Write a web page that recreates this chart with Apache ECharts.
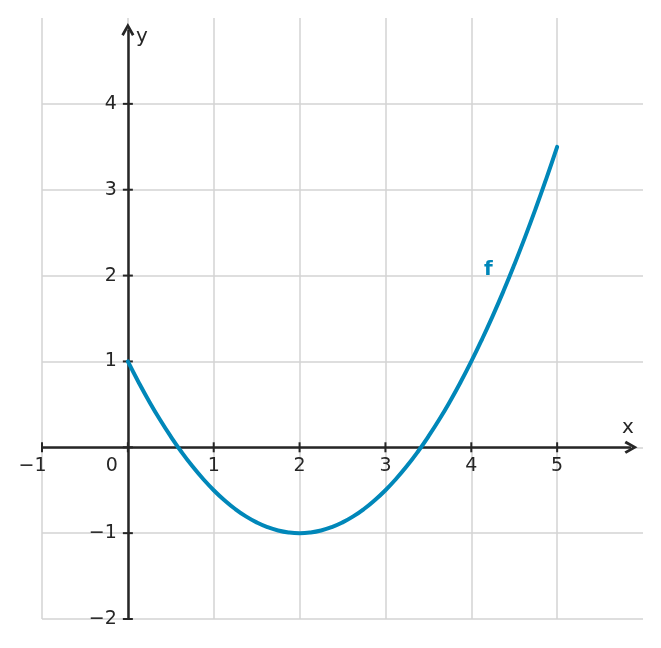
<!DOCTYPE html>
<html>
<head>
<meta charset="utf-8">
<script src="https://cdn.jsdelivr.net/npm/echarts@6/dist/echarts.min.js"></script>
<style>html,body{margin:0;padding:0;background:#fff}#c{width:661px;height:648px}</style>
</head>
<body>
<div id="c"></div>
<script>
// Values
var xValues = [0, 0.125, 0.25, 0.375, 0.5, 0.625, 0.75, 0.875, 1, 1.125, 1.25, 1.375, 1.5, 1.625, 1.75, 1.875, 2,
               2.125, 2.25, 2.375, 2.5, 2.625, 2.75, 2.875, 3, 3.125, 3.25, 3.375, 3.5, 3.625, 3.75, 3.875, 4,
               4.125, 4.25, 4.375, 4.5, 4.625, 4.75, 4.875, 5];
var fValues = [1, 0.758, 0.531, 0.32, 0.125, -0.055, -0.219, -0.367, -0.5, -0.617, -0.719, -0.805, -0.875, -0.93, -0.969, -0.992, -1,
               -0.992, -0.969, -0.93, -0.875, -0.805, -0.719, -0.617, -0.5, -0.367, -0.219, -0.055, 0.125, 0.32, 0.531, 0.758, 1,
               1.258, 1.531, 1.82, 2.125, 2.445, 2.781, 3.133, 3.5];
var xTicks = [-1, 0, 1, 2, 3, 4, 5];
var yTicks = [-2, -1, 0, 1, 2, 3, 4];
var xTickLabels = [-1, 0, 1, 2, 3, 4, 5];
var yTickLabels = [-2, -1, 1, 2, 3, 4];
var xAxisExtent = [-1, 5.86];   // drawn x-axis line (arrow at right end)
var yAxisExtent = [-2, 4.865];  // drawn y-axis line (arrow at top end)
var seriesName = 'f';
var fLabelPos = [4.2, 2.07];
var xName = 'x', yName = 'y';

var FONT = 'DejaVu Sans';
var AX = '#262626';
var BLUE = '#0087b9';
var arrow = 'path://M6,0 L12,10 L9.8,11.4 L6,4.7 L2.2,11.4 L0,10 Z';

function fmt(v) { return v < 0 ? '\u2212' + Math.abs(v) : String(v); }

var txt = { fontFamily: FONT, fontSize: 19, color: AX };
var solid = { color: AX, opacity: 1 };

var xTickData = xTicks.map(function (v) { return [v, 0]; });
var yTickData = yTicks.map(function (v) { return [0, v]; });
var xLabelData = xTickLabels.map(function (v) {
  var dx = v === 0 ? -16 : (v < 0 ? -9.5 : 0);
  return { value: [v, 0], label: { offset: [dx, 19], formatter: fmt(v) } };
});
var yLabelData = yTickLabels.map(function (v) {
  return { value: [0, v], label: { formatter: fmt(v) } };
});

var hiddenAxis = {
  axisLine: { show: false }, axisTick: { show: false }, axisLabel: { show: false }
};

var chart = echarts.init(document.getElementById('c'));
chart.setOption({
  animation: false,
  backgroundColor: '#fff',
  grid: { left: 42, right: 18, top: 18, bottom: 29, containLabel: false },
  xAxis: Object.assign({
    type: 'value', min: -1, max: 6, interval: 1,
    splitLine: { show: true, showMaxLine: false, lineStyle: { color: '#d3d3d3', width: 1.5 } }
  }, hiddenAxis),
  yAxis: Object.assign({
    type: 'value', min: -2, max: 5, interval: 1,
    splitLine: { show: true, showMaxLine: false, lineStyle: { color: '#d3d3d3', width: 1.5 } }
  }, hiddenAxis),
  series: [{
    // axis lines with arrows + x tick marks
    type: 'scatter', silent: true, z: 3,
    data: xTickData, symbol: 'rect', symbolSize: [2, 10],
    itemStyle: solid,
    markLine: {
      silent: true, animation: false, z: 3,
      symbol: ['none', arrow], symbolSize: 13,
      label: { show: false },
      lineStyle: { color: AX, width: 2.5, type: 'solid', opacity: 1 },
      itemStyle: { color: AX, opacity: 1 },
      emphasis: { disabled: true },
      data: [
        [{ coord: [xAxisExtent[0], 0] }, { coord: [xAxisExtent[1], 0] }],
        [{ coord: [0, yAxisExtent[0]] }, { coord: [0, yAxisExtent[1]] }]
      ]
    }
  }, {
    type: 'scatter', silent: true, z: 3,
    data: yTickData, symbol: 'rect', symbolSize: [10, 2],
    itemStyle: solid
  }, {
    type: 'scatter', silent: true, z: 4, symbolSize: 0, itemStyle: solid,
    data: xLabelData,
    label: Object.assign({ show: true, position: [0, 0], align: 'center', verticalAlign: 'middle', textBorderWidth: 0 }, txt)
  }, {
    type: 'scatter', silent: true, z: 4, symbolSize: 0, itemStyle: solid,
    data: yLabelData,
    label: Object.assign({ show: true, position: [0, 0], offset: [-11, 0], align: 'right', verticalAlign: 'middle', textBorderWidth: 0 }, txt)
  }, {
    // axis names
    type: 'scatter', silent: true, z: 4, symbolSize: 0, itemStyle: solid,
    data: [
      { value: [xAxisExtent[1], 0], label: { formatter: xName, offset: [-3, -19] } },
      { value: [0, yAxisExtent[1]], label: { formatter: yName, offset: [14, 7] } }
    ],
    label: { show: true, position: [0, 0], align: 'center', verticalAlign: 'middle', fontFamily: FONT, fontSize: 20, color: AX, textBorderWidth: 0 }
  }, {
    name: seriesName, type: 'line', smooth: true, showSymbol: false, symbol: 'none',
    data: xValues.map(function (x, i) { return [x, fValues[i]]; }),
    lineStyle: { color: BLUE, width: 4, cap: 'round' },
    z: 5, silent: true
  }, {
    type: 'scatter', symbolSize: 0, silent: true, z: 6, itemStyle: { color: BLUE, opacity: 1 },
    data: [fLabelPos],
    label: { show: true, position: [0, 0], align: 'center', verticalAlign: 'middle', formatter: seriesName, color: BLUE, fontFamily: FONT, fontSize: 20, fontWeight: 'bold', textBorderWidth: 0 }
  }]
});
</script>
</body>
</html>
